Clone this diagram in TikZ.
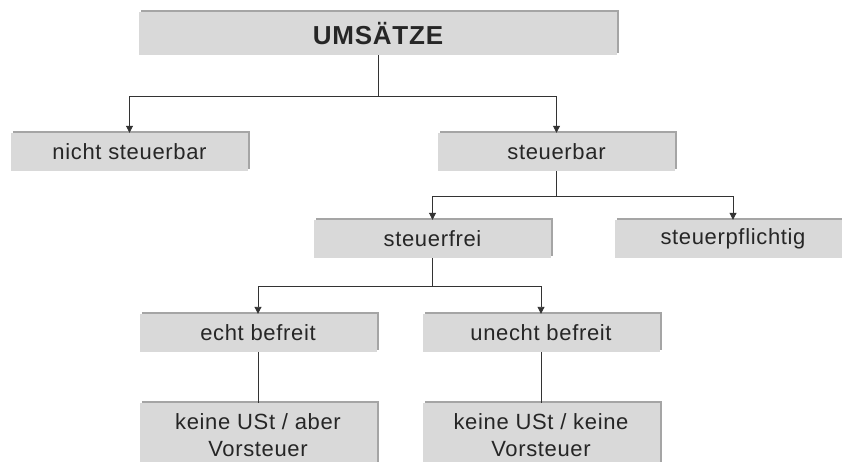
\documentclass[tikz,border=0pt]{standalone}
\usepackage{fontspec}
\setmainfont{Liberation Sans}
\newfontfamily\boxfont[LetterSpace=3]{Liberation Sans}
\usetikzlibrary{positioning, shadows, arrows.meta}
\definecolor{boxfill}{RGB}{217,217,217}
\definecolor{boxshade}{RGB}{165,165,165}
\tikzset{%
  cat/.style = {rectangle, fill=boxfill, inner sep=0pt,
                minimum width=237pt, minimum height=38pt,
                font=\boxfont\fontsize{22}{27}\selectfont, text=black!85,
                drop shadow={shadow xshift=2pt, shadow yshift=2pt,
                             fill=boxshade, opacity=1}},
  root/.style = {cat, minimum width=478pt, minimum height=43pt,
                 font=\boxfont\fontsize{26}{30}\selectfont\bfseries},
  result/.style = {cat, minimum height=65pt, align=center},
  link/.style = {draw=black!80, line width=0.9pt}
  }

\begin{document}
\begin{tikzpicture}[x=1pt, y=-1pt, >={Triangle[length=7pt,width=7pt]}]
  \useasboundingbox (0,0) rectangle (842,462);

  \node (ums) [root] at (378,33.5) {UMSÄTZE};

  \node (nst) [cat] at (129.5,152) {nicht steuerbar};
  \node (st)  [cat] at (556.5,152) {steuerbar};

  \node (sf)  [cat] at (432.5,239) {steuerfrei};
  \node (spf) [cat] at (733,239)   {steuerpflichtig};

  \node (echt)   [cat] at (258,333) {echt befreit};
  \node (unecht) [cat] at (541,333) {unecht befreit};

  \node (vst)  [result] at (258,435.5) {keine USt / aber\\Vorsteuer};
  \node (nvst) [result] at (541,435.5) {keine USt / keine\\Vorsteuer};

  % Umsaetze
  \path (ums.south) ++(0,41) coordinate (j1);
  \draw[link] (ums.south) -- (j1);
  \draw[link, ->] (j1) -| (nst.north);
  \draw[link, ->] (j1) -| (st.north);

  % steuerbar
  \path (st.south) ++(0,25) coordinate (j2);
  \draw[link] (st.south) -- (j2);
  \draw[link, ->] (j2) -| (sf.north);
  \draw[link, ->] (j2) -| (spf.north);

  % steuerfrei
  \path (sf.south) ++(0,28.5) coordinate (j3);
  \draw[link] (sf.south) -- (j3);
  \draw[link, ->] (j3) -| (echt.north);
  \draw[link, ->] (j3) -| (unecht.north);

  \draw[link] (echt) -- (vst);
  \draw[link] (unecht) -- (nvst);
\end{tikzpicture}
\end{document}
